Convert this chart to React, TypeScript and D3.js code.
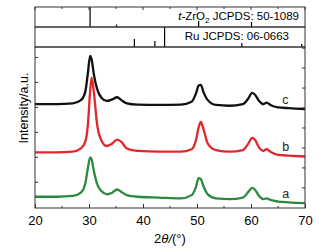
import { useRef, useEffect } from "react";
import * as d3 from "d3";

// 2theta sampling points shared by the three patterns
const theta = [20, 24, 27, 28.5, 29.3, 29.8, 30.2, 30.5, 30.9, 31.5, 32.3, 33.3, 34.3, 35.2, 36, 37, 39, 43, 47, 49, 49.8, 50.3, 50.7, 51.2, 52, 53.5, 56, 58.5, 59.5, 60.2, 60.7, 61.5, 62.3, 62.9, 63.6, 65, 67, 70];
const seriesA = [7, 7, 7.5, 9.5, 15, 25, 31.5, 30, 23, 15, 10.5, 8.5, 9.5, 11.5, 10, 8, 7, 6.5, 6, 8, 13, 18.5, 18, 13.5, 8.5, 6, 5.5, 6.5, 10, 12.5, 11.5, 7.5, 5.5, 6, 5, 4, 3.5, 3];
const seriesB = [34.5, 34.5, 35, 37, 41, 52, 72, 81, 72, 52, 42, 38.5, 40, 42.5, 41, 37, 35.5, 35, 35, 36.5, 42, 50, 53.5, 49, 40, 36, 35, 36, 40, 43.5, 42.5, 37.5, 35.5, 36.5, 35, 33, 32.5, 32];
const seriesC = [64.5, 64.5, 65, 67, 72, 84, 94.5, 92, 83, 74, 68.5, 66.5, 67.5, 68.8, 67, 65, 64.2, 64, 64.2, 66, 71, 76, 76.5, 72, 67, 64, 63.5, 64.5, 68, 71.5, 70.5, 66.5, 64.5, 65.5, 64, 62.5, 62, 61.5];
const seriesNames = ["a", "b", "c"];
const seriesColors = ["#2b8a3e", "#e3262b", "#111111"];

// reference patterns: position and relative height
const zro2Pos = [30.2, 35.1, 50.3, 60.1];
const zro2Rel = [1, 0.12, 0.3, 0.25];
const ruPos = [38.4, 42.2, 44.0, 58.3, 69.4];
const ruRel = [0.4, 0.3, 1, 0.2, 0.15];

const xTicks = [20, 30, 40, 50, 60, 70];

export default function App() {
  const svgRef = useRef<SVGSVGElement>(null);

  useEffect(() => {
    const svg = d3.select(svgRef.current);
    svg.selectAll("*").remove();
    const left = 35, right = 305, top = 7, p1 = 27, p2 = 47, bottom = 208;
    const x = d3.scaleLinear().domain([20, 70]).range([left, right]);
    const y = d3.scaleLinear().domain([0, 100]).range([bottom, p2]);
    const font = "Liberation Sans, Arial, sans-serif";

    // series
    const data = [seriesA, seriesB, seriesC];
    const ln = d3.line<number>().x((d, i) => x(theta[i])).y((d) => y(d)).curve(d3.curveMonotoneX);
    data.forEach((vals, k) => {
      svg.append("path").attr("d", ln(vals)).attr("fill", "none")
        .attr("stroke", seriesColors[k]).attr("stroke-width", 2.3).attr("stroke-linejoin", "round");
      svg.append("text").attr("x", x(65.8)).attr("y", y(vals[vals.length - 1]) - 5)
        .attr("font-family", font).attr("font-size", 12.5).attr("fill", "#222").text(seriesNames[k]);
    });

    // reference panels
    const drawSticks = (pos: number[], rel: number[], y0: number, y1: number) => {
      pos.forEach((p, i) => {
        svg.append("line").attr("x1", x(p)).attr("x2", x(p))
          .attr("y1", y1).attr("y2", y1 - (y1 - y0) * rel[i]).attr("stroke", "#000").attr("stroke-width", 1.2);
      });
    };
    drawSticks(zro2Pos, zro2Rel, top, p1);
    drawSticks(ruPos, ruRel, p1, p2);

    // frames
    [[top, p1], [p1, p2], [p2, bottom]].forEach(([a, b]) => {
      svg.append("rect").attr("x", left).attr("y", a).attr("width", right - left).attr("height", b - a)
        .attr("fill", "none").attr("stroke", "#333").attr("stroke-width", 1);
    });

    // bottom axis
    const xa = svg.append("g").attr("transform", `translate(0,${bottom})`)
      .call(d3.axisBottom(x).tickValues(xTicks).tickSizeInner(-4).tickSizeOuter(0).tickPadding(8));
    xa.select(".domain").remove();
    xa.selectAll("text").attr("font-size", 13).attr("font-family", font).attr("fill", "#000");
    xa.selectAll("line").attr("stroke", "#333");
    const minor = d3.range(25, 70, 10);
    minor.forEach((m) => {
      svg.append("line").attr("x1", x(m)).attr("x2", x(m)).attr("y1", bottom).attr("y2", bottom - 2).attr("stroke", "#333");
      svg.append("line").attr("x1", x(m)).attr("x2", x(m)).attr("y1", top).attr("y2", top + 2).attr("stroke", "#333");
    });
    xTicks.forEach((m) => {
      svg.append("line").attr("x1", x(m)).attr("x2", x(m)).attr("y1", top).attr("y2", top + 3).attr("stroke", "#333");
    });

    // side ticks
    d3.range(16, 100, 15.5).forEach((v) => {
      svg.append("line").attr("x1", left).attr("x2", left + 3).attr("y1", y(v)).attr("y2", y(v)).attr("stroke", "#333");
    });
    d3.range(12.5, 100, 12.4).forEach((v) => {
      svg.append("line").attr("x1", right).attr("x2", right - 3).attr("y1", y(v)).attr("y2", y(v)).attr("stroke", "#333");
    });

    // panel labels
    const t1 = svg.append("text").attr("x", right - 6).attr("y", 20).attr("text-anchor", "end")
      .attr("font-family", font).attr("font-size", 11.5).attr("fill", "#000");
    t1.append("tspan").attr("font-style", "italic").text("t-");
    t1.append("tspan").text("ZrO");
    t1.append("tspan").attr("font-size", 8).attr("dy", 3).text("2");
    t1.append("tspan").attr("dy", -3).text(" JCPDS: 50-1089");
    svg.append("text").attr("x", right - 16).attr("y", 40).attr("text-anchor", "end")
      .attr("font-family", font).attr("font-size", 11.5).attr("fill", "#000").text("Ru JCPDS: 06-0663");

    // axis titles
    svg.append("text").attr("transform", `translate(28,108) rotate(-90)`)
      .attr("text-anchor", "middle").attr("font-family", font).attr("font-size", 12.5).attr("fill", "#000")
      .text("Intensity/a.u.");
    const xt = svg.append("text").attr("x", 170).attr("y", 243).attr("text-anchor", "middle")
      .attr("font-family", font).attr("font-size", 13).attr("fill", "#000");
    xt.append("tspan").text("2");
    xt.append("tspan").attr("font-style", "italic").text("θ");
    xt.append("tspan").attr("font-style", "italic").text("/");
    xt.append("tspan").text("(°)");
  }, []);

  return (
    <svg ref={svgRef} width={319} height={251} style={{ position: "absolute", left: 0, top: 0, background: "#fff" }} />
  );
}
